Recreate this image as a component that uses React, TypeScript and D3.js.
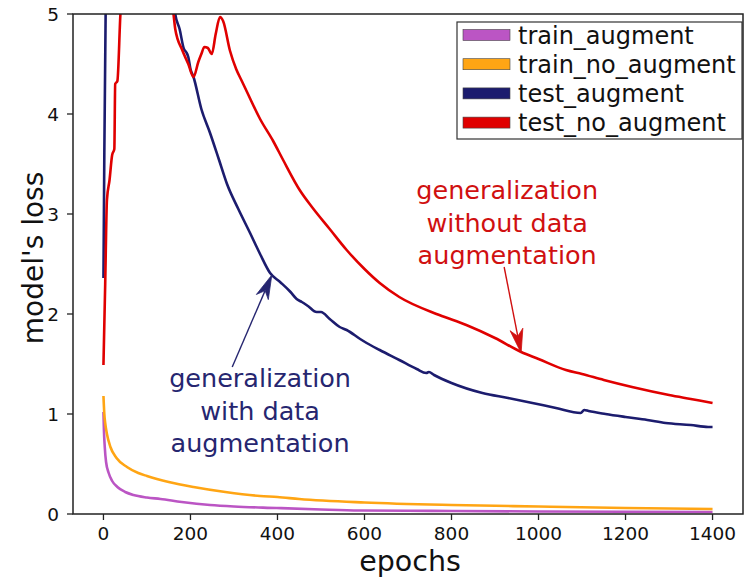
import React from "react";
import * as d3 from "d3";

// ---- data (epoch, loss) ----
const trainAugmentEpochs = [0, 1, 3, 6, 12, 20, 32, 50, 69, 100, 131, 180, 245, 300, 398, 500, 589, 700, 800, 1000, 1200, 1400];
const trainAugmentLoss = [1.02, 0.85, 0.67, 0.52, 0.41, 0.33, 0.27, 0.22, 0.19, 0.165, 0.15, 0.12, 0.09, 0.075, 0.06, 0.045, 0.035, 0.032, 0.03, 0.025, 0.022, 0.02];

const trainNoAugmentEpochs = [0, 2, 4, 8, 16, 30, 54, 80, 100, 150, 207, 280, 360, 400, 450, 600, 800, 1000, 1200, 1400];
const trainNoAugmentLoss = [1.18, 1.0, 0.91, 0.8, 0.67, 0.56, 0.47, 0.41, 0.38, 0.32, 0.27, 0.22, 0.18, 0.17, 0.15, 0.115, 0.09, 0.075, 0.06, 0.05];

const testAugmentEpochs = [0, 2, 5, 10, 40, 100, 140, 160, 165, 175, 185, 190, 195, 200, 207, 225, 245, 265, 284, 310, 337, 360, 383, 406, 430, 444, 456, 470, 490, 500, 520, 543, 559, 590, 605, 635, 680, 720, 742, 748, 760, 800, 871, 930, 986, 1040, 1097, 1105, 1115, 1154, 1200, 1250, 1292, 1350, 1390, 1400];
const testAugmentLoss = [2.36, 3.6, 5.0, 6.5, 8.0, 7.0, 6.0, 5.2, 5.0, 4.85, 4.65, 4.62, 4.57, 4.45, 4.37, 4.05, 3.81, 3.55, 3.3, 3.05, 2.81, 2.6, 2.41, 2.32, 2.22, 2.15, 2.12, 2.08, 2.02, 2.02, 1.95, 1.87, 1.84, 1.75, 1.71, 1.64, 1.54, 1.45, 1.41, 1.42, 1.39, 1.31, 1.21, 1.16, 1.11, 1.06, 1.01, 1.04, 1.03, 1.0, 0.97, 0.94, 0.91, 0.89, 0.87, 0.87];

const testNoAugmentEpochs = [0, 4, 8, 14, 20, 25, 27, 32, 39, 50, 80, 120, 150, 161, 165, 181, 195, 207, 218, 225, 232, 240, 249, 258, 268, 275, 291, 305, 318, 330, 360, 390, 413, 451, 481, 520, 559, 600, 635, 680, 772, 834, 900, 960, 1000, 1063, 1100, 1150, 1215, 1300, 1350, 1400];
const testNoAugmentLoss = [1.49, 2.3, 3.14, 3.34, 3.59, 3.65, 4.3, 4.33, 5.0, 5.5, 6.0, 5.8, 5.3, 5.0, 4.85, 4.64, 4.5, 4.37, 4.52, 4.6, 4.67, 4.66, 4.6, 4.8, 4.97, 4.93, 4.63, 4.45, 4.33, 4.22, 3.95, 3.73, 3.54, 3.24, 3.06, 2.85, 2.64, 2.45, 2.31, 2.17, 1.99, 1.89, 1.76, 1.62, 1.55, 1.44, 1.4, 1.34, 1.27, 1.19, 1.15, 1.11];

const seriesNames = ["train_augment", "train_no_augment", "test_augment", "test_no_augment"];
const seriesColors = ["#bb55c4", "#ffa514", "#1c1c6e", "#e00000"];
const seriesEpochs = [trainAugmentEpochs, trainNoAugmentEpochs, testAugmentEpochs, testNoAugmentEpochs];
const seriesLoss = [trainAugmentLoss, trainNoAugmentLoss, testAugmentLoss, testNoAugmentLoss];

const xTicks = [0, 200, 400, 600, 800, 1000, 1200, 1400];
const yTicks = [0, 1, 2, 3, 4, 5];

// annotations: text lines, text anchor (epoch, loss), arrow tail and tip (epoch, loss)
const annoLines = [
  ["generalization", "without data", "augmentation"],
  ["generalization", "with data", "augmentation"],
];
const annoText = [[928, 3.15], [360, 1.27]];
const annoTail = [[921, 2.47], [296, 1.47]];
const annoTip = [[960, 1.61], [387, 2.39]];
const annoColors = ["#d01010", "#262670"];

const W = 753, H = 577;
const L = 73, R = 743, T = 14, B = 514;

export default function App() {
  const x = d3.scaleLinear().domain([-70, 1470]).range([L, R]);
  const y = d3.scaleLinear().domain([0, 5]).range([B, T]);
  const line = d3.line<[number, number]>().x(d => x(d[0])).y(d => y(d[1])).curve(d3.curveMonotoneX);
  const font = "'DejaVu Sans', sans-serif";

  const arrow = (i: number) => {
    const x0 = x(annoTail[i][0]), y0 = y(annoTail[i][1]);
    const x1 = x(annoTip[i][0]), y1 = y(annoTip[i][1]);
    const dx = x1 - x0, dy = y1 - y0;
    const len = Math.hypot(dx, dy);
    const ux = dx / len, uy = dy / len;
    const px = -uy, py = ux;
    const hl = 24, hw = 6.5, notch = 17;
    const bx = x1 - ux * hl, by = y1 - uy * hl;
    const nx = x1 - ux * notch, ny = y1 - uy * notch;
    const head = `M${x1},${y1} L${bx + px * hw},${by + py * hw} L${nx},${ny} L${bx - px * hw},${by - py * hw} Z`;
    return (
      <g key={"ar" + i}>
        <line x1={x0} y1={y0} x2={nx} y2={ny} stroke={annoColors[i]} strokeWidth={1.4} />
        <path d={head} fill={annoColors[i]} stroke={annoColors[i]} strokeWidth={0.8} />
      </g>
    );
  };

  return (
    <svg width={W} height={H} style={{ position: "absolute", left: 0, top: 0, background: "#fff" }} fontFamily={font}>
      <defs>
        <clipPath id="plot">
          <rect x={L} y={T} width={R - L} height={B - T} />
        </clipPath>
      </defs>
      <g clipPath="url(#plot)">
        {seriesNames.map((n, i) => (
          <path key={n}
            d={line(seriesEpochs[i].map((e, j) => [e, seriesLoss[i][j]] as [number, number])) || ""}
            fill="none" stroke={seriesColors[i]} strokeWidth={2.6} strokeLinejoin="round" />
        ))}
      </g>
      {/* frame */}
      <rect x={L} y={T} width={R - L} height={B - T} fill="none" stroke="#222" strokeWidth={1.5} />
      {/* x ticks */}
      {xTicks.map(t => (
        <g key={"xt" + t}>
          <line x1={x(t)} x2={x(t)} y1={B} y2={B + 6} stroke="#222" strokeWidth={1.3} />
          <text x={x(t)} y={B + 26} textAnchor="middle" fontSize={18.5} fill="#111">{t}</text>
        </g>
      ))}
      {/* y ticks */}
      {yTicks.map(t => (
        <g key={"yt" + t}>
          <line x1={L - 6} x2={L} y1={y(t)} y2={y(t)} stroke="#222" strokeWidth={1.3} />
          <text x={L - 14} y={y(t) + 6.5} textAnchor="end" fontSize={18.5} fill="#111">{t}</text>
        </g>
      ))}
      <text x={410} y={571} textAnchor="middle" fontSize={28.5} fill="#111">epochs</text>
      <text transform={`translate(43,258) rotate(-90)`} textAnchor="middle" fontSize={28} fill="#111">model's loss</text>

      {/* annotations */}
      {annoLines.map((lines, i) => (
        <g key={"an" + i}>
          {lines.map((s, k) => (
            <text key={k} x={x(annoText[i][0])} y={y(annoText[i][1]) + k * 32.5} textAnchor="middle" fontSize={25.5} fill={annoColors[i]}>{s}</text>
          ))}
          {arrow(i)}
        </g>
      ))}

      {/* legend */}
      <rect x={457} y={22} width={285} height={117} fill="#fff" stroke="#333" strokeWidth={1.2} />
      {seriesNames.map((n, i) => {
        const cy = 35 + i * 29.2;
        return (
          <g key={"lg" + n}>
            <rect x={463} y={cy - 5.5} width={47} height={11} fill={seriesColors[i]} stroke="#444" strokeWidth={0.6} />
            <text x={518} y={cy + 8.5} fontSize={24} fill="#111">{n}</text>
          </g>
        );
      })}
    </svg>
  );
}
